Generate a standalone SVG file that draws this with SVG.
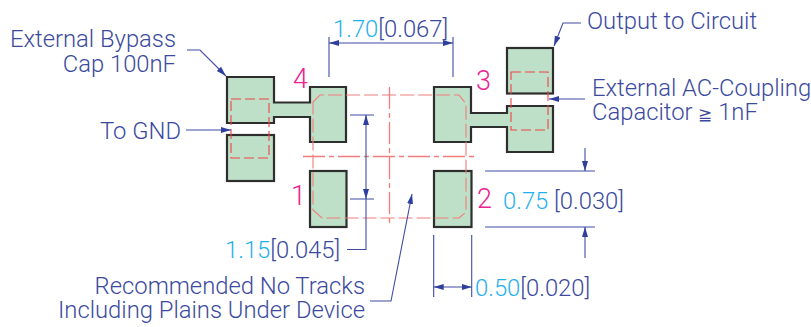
<svg xmlns="http://www.w3.org/2000/svg" width="811" height="327" viewBox="0 0 811 327">
<style>
text{font-family:Roboto,"Open Sans","Liberation Sans",sans-serif;font-weight:300;font-size:23.800px;fill:#3b4a9e}
.c{fill:#1fb0ee}.m{fill:#ec2390;font-size:27px}.g{font-size:17px}
.pad{fill:#bfe0c8;stroke:#2e2e2e;stroke-width:2.2}
.r{fill:none;stroke:#ee4444;stroke-width:1.1;stroke-dasharray:10 4}
.o{fill:none;stroke:#f27c7c;stroke-width:1.1;stroke-dasharray:14 4}
.cl{fill:none;stroke:#f47c7c;stroke-width:1.3;stroke-dasharray:22 4 5 4}
.l{fill:none;stroke:#3f4da5;stroke-width:1.1}
</style>
<defs><marker id="a" markerWidth="11" markerHeight="7" refX="10" refY="3" orient="auto-start-reverse" markerUnits="userSpaceOnUse"><path d="M0 0L10 3L0 6Z" fill="#2e3f9e"/></marker></defs>
<g id="node-pad4"><path class="pad" d="M227 77H274V102.500H310V87H346V142H310V117H274V123H227Z"/></g>
<g id="node-pad-gnd"><rect class="pad" x="227" y="135" width="47" height="46"/></g>
<g id="node-pad1"><rect class="pad" x="310" y="171" width="36.500" height="56"/></g>
<g id="node-pad2"><rect class="pad" x="434" y="171" width="37.500" height="56"/></g>
<g id="node-pad3"><path class="pad" d="M434 87H471V113H507V106H553V152H507V127H471V142H434Z"/></g>
<g id="node-pad-out"><rect class="pad" x="507" y="48" width="46" height="45.500"/></g>
<g id="outline">
<rect class="r" x="231" y="99" width="38" height="59"/>
<rect class="r" x="511" y="72" width="37" height="58"/>
<path class="o" d="M313 102L320 95H459L466 104V212L459 218H322L313 210Z"/>
<path class="cl" d="M303 156.500H476M389.500 87V223"/>
</g>
<g id="connectors">
<path class="l" d="M329 37V77M453 37V77"/>
<path class="l" d="M329 43H453" marker-start="url(#a)" marker-end="url(#a)"/>
<path class="l" d="M187 50H200L226 76" marker-end="url(#a)"/>
<path class="l" d="M186 130H231" marker-end="url(#a)"/>
<path class="l" d="M581 23H563L554 46" marker-end="url(#a)"/>
<path class="l" d="M585 99H549" marker-end="url(#a)"/>
<path class="l" d="M350 115H374M350 199H374"/>
<path class="l" d="M366 157V115" marker-end="url(#a)"/>
<path class="l" d="M366 157V199" marker-end="url(#a)"/>
<path class="l" d="M347 249.500H366V199"/>
<path class="l" d="M485 171H595M485 227H595"/>
<path class="l" d="M585 148V171" marker-end="url(#a)"/>
<path class="l" d="M585 258V227" marker-end="url(#a)"/>
<path class="l" d="M433.700 235V297M471.700 235V297"/>
<path class="l" d="M433.700 287H471.700" marker-start="url(#a)" marker-end="url(#a)"/>
<path class="l" d="M370 301H391L412 194" marker-end="url(#a)"/>
</g>
<g id="labels">
<text x="333" y="37"><tspan class="c">1.70</tspan>[0.067]</text>
<text text-anchor="end"><tspan x="176" y="47">External Bypass</tspan><tspan x="176" y="72">Cap 100nF</tspan></text>
<text x="100" y="139">To GND</text>
<text x="587" y="29">Output to Circuit</text>
<text><tspan x="592" y="96">External AC-Coupling</tspan><tspan x="592" y="120">Capacitor <tspan class="g">≧</tspan> 1nF</tspan></text>
<text class="m" x="293" y="88">4</text>
<text class="m" x="476" y="90">3</text>
<text class="m" x="291" y="205">1</text>
<text class="m" x="477" y="208">2</text>
<text x="503" y="209"><tspan class="c">0.75</tspan> [0.030]</text>
<text x="475" y="296"><tspan class="c">0.50</tspan>[0.020]</text>
<text x="225" y="258"><tspan class="c">1.15</tspan>[0.045]</text>
<text text-anchor="end"><tspan x="365" y="294">Recommended No Tracks</tspan><tspan x="365" y="318">Including Plains Under Device</tspan></text>
</g>
</svg>
